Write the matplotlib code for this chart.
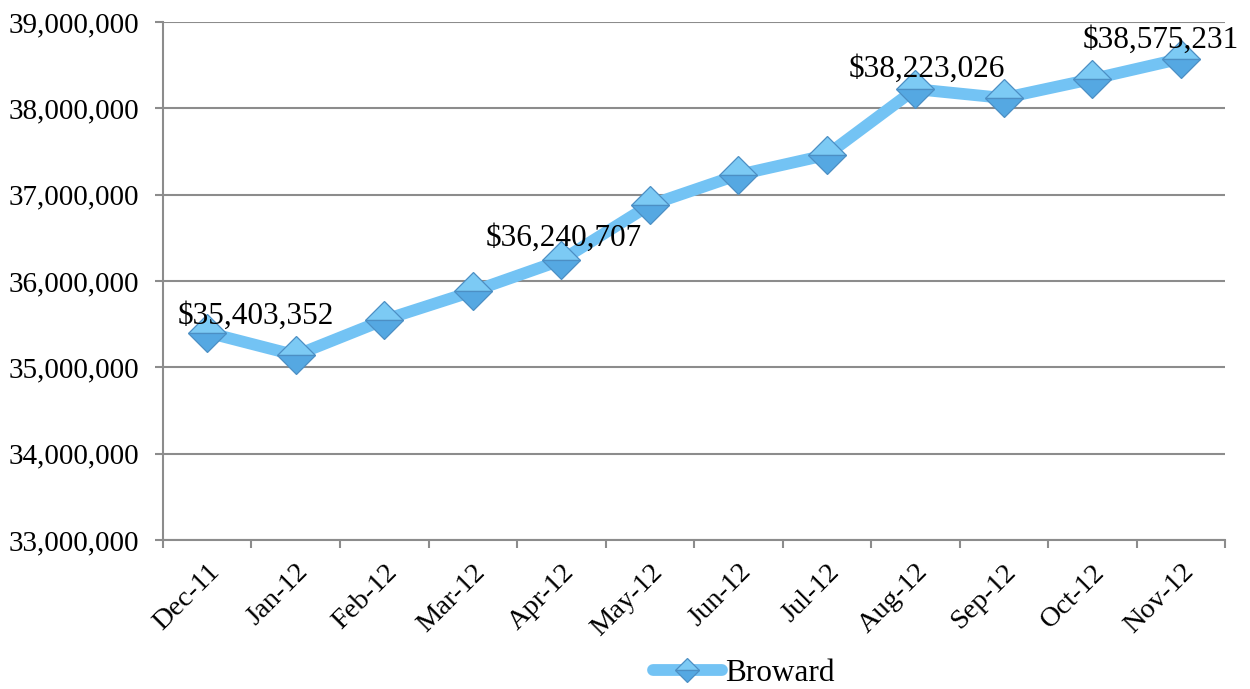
import matplotlib
matplotlib.use("Agg")
import matplotlib.pyplot as plt
from matplotlib.ticker import FuncFormatter, FixedLocator
from matplotlib.lines import Line2D
from matplotlib.transforms import ScaledTranslation

months = ["Dec-11", "Jan-12", "Feb-12", "Mar-12", "Apr-12", "May-12",
          "Jun-12", "Jul-12", "Aug-12", "Sep-12", "Oct-12", "Nov-12"]
broward = [35403352, 35140000, 35550000, 35880000, 36240707, 36880000,
           37230000, 37460000, 38223026, 38120000, 38340000, 38575231]
labeled_idx = [0, 4, 8, 11]
label_offsets = {0: (35, 11.5), 4: (2, 16), 8: (8, 14.4), 11: (-14.4, 13)}  # points

plt.rcParams['font.family'] = ['Liberation Serif', 'DejaVu Serif']

fig = plt.figure(figsize=(12.5, 6.89), dpi=100)
ax = fig.add_axes([0.1304, 0.2163, 0.98 - 0.1304, 0.968 - 0.2163])

x = list(range(len(months)))
line_color = "#73C3F4"
mk = dict(marker='D', fillstyle='top', markerfacecolor='#7CCAF4',
          markerfacecoloralt='#55A8E2', markeredgecolor='#4C8FC4',
          markeredgewidth=0.9)
ax.plot(x, broward, color=line_color, lw=8.5, solid_capstyle='round',
        solid_joinstyle='round', zorder=3, markersize=19.5, **mk)

for i in labeled_idx:
    dx, dy = label_offsets[i]
    ax.annotate(f"${broward[i]:,}", (x[i], broward[i]), xytext=(dx, dy),
                textcoords='offset points', ha='center', va='center',
                fontsize=22.5, color='black', zorder=5)

ax.set_ylim(33000000, 39000000)
ax.set_yticks(range(33000000, 39000001, 1000000))
ax.yaxis.set_major_formatter(FuncFormatter(lambda v, p: f"{int(v):,}"))
ax.set_xlim(-0.5, len(months) - 0.5)
ax.set_xticks(x)
ax.set_xticklabels(months, rotation=45, ha='right', rotation_mode='anchor',
                   fontsize=20.5)
shift = ScaledTranslation(-5 / 100, 2 / 100, fig.dpi_scale_trans)
for lbl in ax.get_xticklabels():
    lbl.set_transform(lbl.get_transform() + shift)
ax.xaxis.set_minor_locator(FixedLocator([i - 0.5 for i in range(len(months) + 1)]))
ax.tick_params(axis='x', which='major', length=0, pad=14)
ax.tick_params(axis='x', which='minor', length=6, width=1.5, color='#8C8C8C')
ax.tick_params(axis='y', length=6, width=1.5, color='#8C8C8C', labelsize=21, pad=11)

ax.grid(axis='y', color='#8C8C8C', lw=1.5)
ax.set_axisbelow(True)
for s in ['top', 'right']:
    ax.spines[s].set_visible(False)
for s in ['left', 'bottom']:
    ax.spines[s].set_color('#8C8C8C')
    ax.spines[s].set_linewidth(1.5)

handle = Line2D([], [], color=line_color, lw=8.5, solid_capstyle='round',
                markersize=12, **mk)
fig.legend([handle], ["Broward"], loc='lower center',
           bbox_to_anchor=(0.595, -0.04), frameon=False, fontsize=22.5,
           handlelength=2.2, handletextpad=0.1)

fig.savefig("out.png", dpi=100)
